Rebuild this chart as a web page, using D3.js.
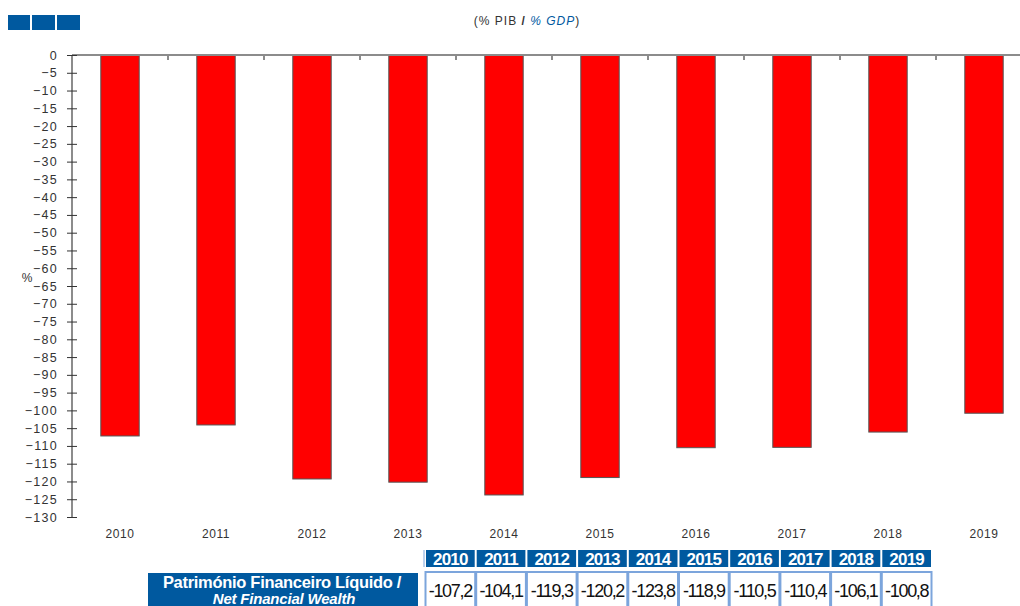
<!DOCTYPE html>
<html><head><meta charset="utf-8">
<script src="https://cdn.jsdelivr.net/npm/d3@7"></script>
<style>
body{margin:0;background:#fff;}
svg{display:block;font-family:"Liberation Sans",Arial,sans-serif;}
</style></head>
<body>
<svg id="chart" width="1020" height="606"></svg>
<script>
const years = ["2010","2011","2012","2013","2014","2015","2016","2017","2018","2019"];
const values = [-107.2,-104.1,-119.3,-120.2,-123.8,-118.9,-110.5,-110.4,-106.1,-100.8];
const valueLabels = ["-107,2","-104,1","-119,3","-120,2","-123,8","-118,9","-110,5","-110,4","-106,1","-100,8"];
const yTicks = d3.range(0,-131,-5);
const rowLabel1 = "Património Financeiro Líquido /";
const rowLabel2 = "Net Financial Wealth";

const svg = d3.select("#chart");
const blue = "#00599f";
const axisCol = "#8c8c8c";

// top-left boxes
[[8,22],[32,23],[57,23]].forEach(([x,w])=>{
  svg.append("rect").attr("x",x).attr("y",15).attr("width",w).attr("height",15).attr("fill",blue);
});

// title
const t = svg.append("text").attr("x",527).attr("y",25).attr("text-anchor","middle")
  .attr("font-size",12).attr("fill","#333").attr("letter-spacing","1px");
t.append("tspan").text("(% PIB ");
t.append("tspan").attr("font-weight","bold").text("/");
t.append("tspan").attr("fill",blue).attr("font-style","italic").text(" % GDP");
t.append("tspan").text(")");

const x = d3.scaleBand().domain(years).range([72,1032]).paddingInner(0.6).paddingOuter(0.3);
const y = d3.scaleLinear().domain([0,-130]).range([55,517]);

// bars
svg.append("g").selectAll("rect").data(values).join("rect")
  .attr("x",(d,i)=>x(years[i]))
  .attr("y",y(0))
  .attr("width",x.bandwidth())
  .attr("height",d=>y(d)-y(0))
  .attr("fill","#ff0000").attr("stroke","#555").attr("stroke-width",1);

// top axis line with category ticks
svg.append("line").attr("x1",72).attr("x2",1020).attr("y1",y(0)).attr("y2",y(0))
  .attr("stroke",axisCol).attr("stroke-width",2);
svg.append("g").selectAll("line").data(years.slice(1)).join("line")
  .attr("x1",d=>x(d)-x.step()*x.paddingInner()/2).attr("x2",d=>x(d)-x.step()*x.paddingInner()/2)
  .attr("y1",y(0)).attr("y2",y(0)+5).attr("stroke",axisCol).attr("stroke-width",2);

// y axis
const yAxis = d3.axisLeft(y).tickValues(yTicks).tickSize(5).tickPadding(9).tickFormat(d3.format("d"));
const gy = svg.append("g").attr("transform","translate(72,0)").call(yAxis);
gy.select(".domain").attr("stroke",axisCol).attr("stroke-width",2).attr("d","M0,55V517");
gy.selectAll(".tick line").attr("stroke","#333").attr("x1",5).attr("x2",-5);
gy.selectAll(".tick text").attr("font-size",12.5).attr("fill","#333")
  .attr("font-family","Liberation Sans, Arial, sans-serif").attr("letter-spacing","1.3px");

svg.append("text").attr("x",27).attr("y",282).attr("text-anchor","middle")
  .attr("font-size",12).attr("fill","#333").text("%");

// x labels
svg.append("g").selectAll("text").data(years).join("text")
  .attr("x",d=>x(d)+x.bandwidth()/2).attr("y",538).attr("text-anchor","middle")
  .attr("font-size",12).attr("fill","#333").attr("letter-spacing","0.6px").text(d=>d);

// table
const tx = d3.scaleBand().domain(years).range([425,932]);
const cw = tx.bandwidth();
const head = svg.append("g");
head.selectAll("rect").data(years).join("rect")
  .attr("x",d=>tx(d)+1).attr("y",550).attr("width",cw-2).attr("height",17).attr("fill",blue);
head.append("line").attr("x1",424).attr("x2",424).attr("y1",550).attr("y2",567).attr("stroke","#7ca5dc").attr("stroke-width",1);
head.selectAll("text").data(years).join("text")
  .attr("x",d=>tx(d)+cw/2).attr("y",565).attr("text-anchor","middle")
  .attr("font-size",17).attr("font-weight","bold").attr("fill","#fff").attr("letter-spacing","-0.8px").text(d=>d);

const body = svg.append("g");
body.selectAll("rect").data(valueLabels).join("rect")
  .attr("x",(d,i)=>tx(years[i])+0.5).attr("y",572).attr("width",cw-1).attr("height",40)
  .attr("fill","#fff").attr("stroke","#7ca5dc").attr("stroke-width",2);
body.selectAll("text").data(valueLabels).join("text")
  .attr("x",(d,i)=>tx(years[i])+cw/2).attr("y",597).attr("text-anchor","middle")
  .attr("font-size",18).attr("fill","#111").attr("letter-spacing","-1.3px").text(d=>d);

svg.append("rect").attr("x",148).attr("y",573).attr("width",270).attr("height",40).attr("fill",blue);
svg.append("text").attr("x",282).attr("y",588).attr("text-anchor","middle")
  .attr("font-size",16.5).attr("font-weight","bold").attr("fill","#fff").attr("letter-spacing","-0.3px").text(rowLabel1);
svg.append("text").attr("x",284).attr("y",604).attr("text-anchor","middle")
  .attr("font-size",15).attr("font-weight","bold").attr("font-style","italic").attr("fill","#fff").attr("letter-spacing","-0.2px").text(rowLabel2);
</script>
</body></html>
